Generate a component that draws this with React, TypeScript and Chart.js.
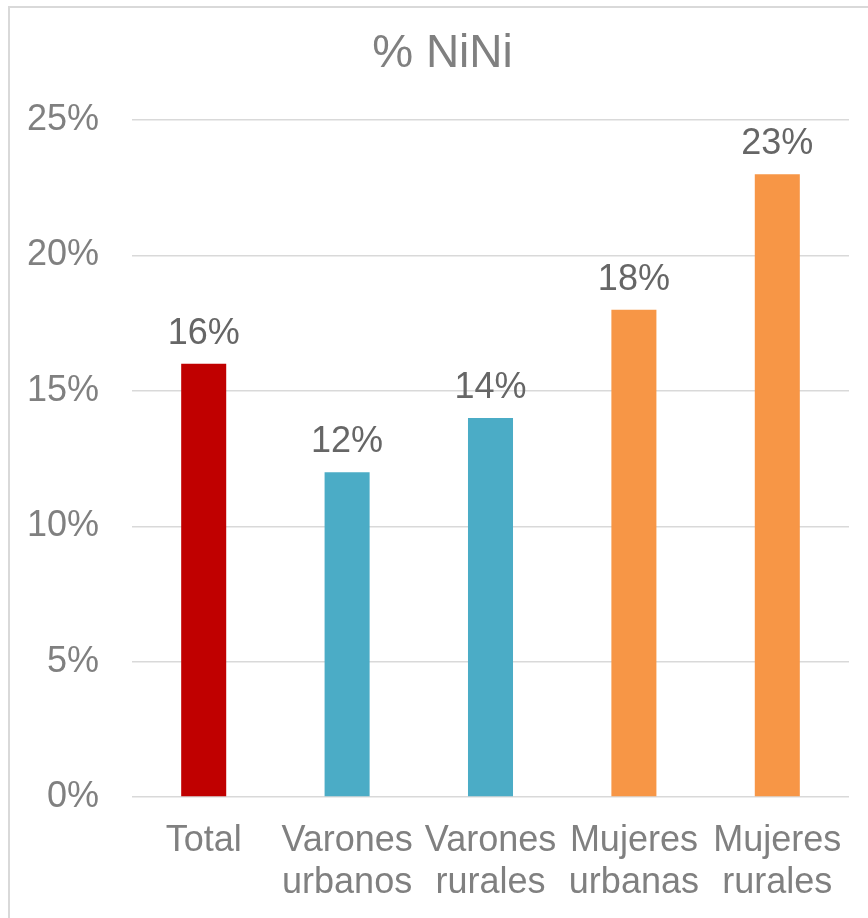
import React, { useEffect, useRef } from "react";
import { Chart, registerables } from "chart.js";

Chart.register(...registerables);

const categories: string[][] = [
  ["Total"],
  ["Varones", "urbanos"],
  ["Varones", "rurales"],
  ["Mujeres", "urbanas"],
  ["Mujeres", "rurales"],
];
const values: number[] = [16, 12, 14, 18, 23];
const barColors: string[] = ["#C00000", "#4BACC6", "#4BACC6", "#F79646", "#F79646"];
const yTicks: number[] = [0, 5, 10, 15, 20, 25];
const title = "% NiNi";

const FONT = "'Liberation Sans', Arial, sans-serif";

const dataLabelPlugin = {
  id: "dataLabels",
  afterDatasetsDraw(chart: any) {
    const ctx = chart.ctx;
    const meta = chart.getDatasetMeta(0);
    ctx.save();
    ctx.font = `36px ${FONT}`;
    ctx.fillStyle = "#666666";
    ctx.textAlign = "center";
    ctx.textBaseline = "alphabetic";
    meta.data.forEach((bar: any, i: number) => {
      ctx.fillText(`${values[i]}%`, bar.x, bar.y - 20);
    });
    ctx.restore();
  },
};

const widenYAxisPlugin = {
  id: "widenYAxis",
  afterLayout(chart: any) {
    const y = chart.scales.y;
    if (y) y.left = 0;
  },
};

const borderPlugin = {
  id: "frameBorder",
  beforeDraw(chart: any) {
    const ctx = chart.ctx;
    ctx.save();
    ctx.fillStyle = "#ffffff";
    ctx.fillRect(0, 0, chart.width, chart.height);
    ctx.strokeStyle = "#d9d9d9";
    ctx.lineWidth = 2;
    ctx.beginPath();
    ctx.moveTo(1, chart.height);
    ctx.lineTo(1, 1);
    ctx.lineTo(chart.width, 1);
    ctx.stroke();
    ctx.restore();
  },
};

export default function App() {
  const canvasRef = useRef<HTMLCanvasElement | null>(null);

  useEffect(() => {
    if (!canvasRef.current) return;
    const chart = new Chart(canvasRef.current, {
      type: "bar",
      data: {
        labels: categories,
        datasets: [
          {
            data: values,
            backgroundColor: barColors,
            borderWidth: 0,
            categoryPercentage: 1,
            barPercentage: 0.314,
          },
        ],
      },
      options: {
        responsive: false,
        maintainAspectRatio: false,
        animation: false,
        devicePixelRatio: 1,
        layout: { padding: { top: 21, left: 28, right: 27, bottom: 14 } },
        plugins: {
          legend: { display: false },
          tooltip: { enabled: false },
          title: {
            display: true,
            text: title,
            color: "#808080",
            font: { family: FONT, size: 46, weight: "normal", lineHeight: 1.2 },
            padding: { top: 0, bottom: 38 },
          },
        },
        scales: {
          x: {
            grid: { display: false, drawTicks: false },
            border: { display: false },
            afterFit(scale: any) {
              scale.height = 107;
            },
            ticks: {
              color: "#808080",
              font: { family: FONT, size: 36, lineHeight: 42 / 36 },
              padding: 23,
              maxRotation: 0,
              autoSkip: false,
            },
          },
          y: {
            min: 0,
            max: 25,
            afterBuildTicks(scale: any) {
              scale.ticks = yTicks.map((v) => ({ value: v }));
            },
            afterFit(scale: any) {
              scale.width = 96;
            },
            grid: { color: "#d9d9d9", lineWidth: 1.5, drawTicks: false },
            border: { display: false },
            ticks: {
              color: "#808080",
              font: { family: FONT, size: 36 },
              padding: 33,
              callback: (v: any) => `${v}%`,
            },
          },
        },
      },
      plugins: [borderPlugin, widenYAxisPlugin, dataLabelPlugin],
    });
    return () => chart.destroy();
  }, []);

  return (
    <div
      style={{
        position: "absolute",
        left: 8,
        top: 6,
        width: 860,
        height: 912,
        overflow: "hidden",
      }}
    >
      <canvas ref={canvasRef} width={868} height={912} style={{ display: "block" }} />
    </div>
  );
}
